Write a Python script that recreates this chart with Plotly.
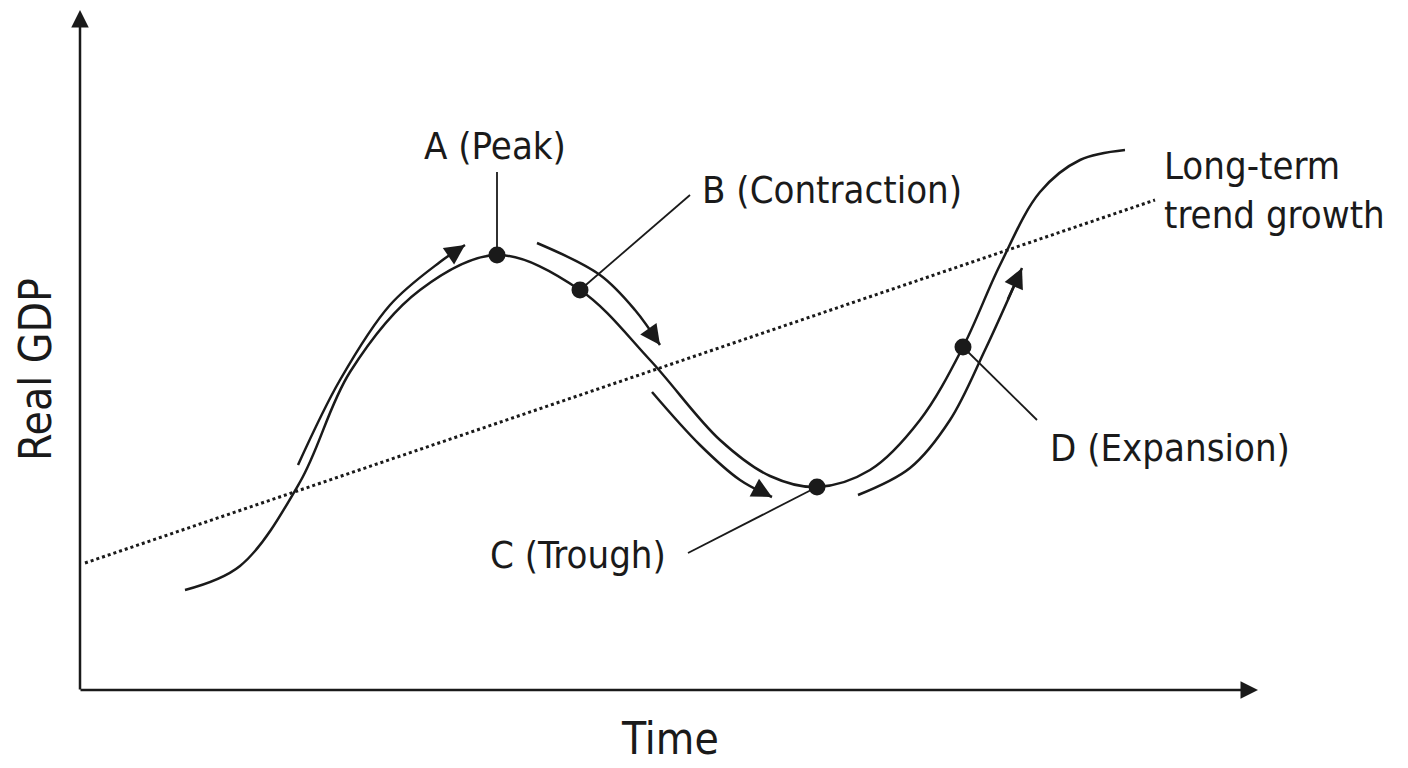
import plotly.graph_objects as go

# schematic coordinates (pixel-like units, y grows downward)
cycle_x = [185, 240, 300, 350, 420, 497, 580, 650, 720, 770, 817, 870, 920, 963, 1000, 1040, 1080, 1125]
cycle_y = [590, 566, 482, 372, 290, 255, 290, 360, 440, 476, 487, 470, 420, 347, 265, 192, 160, 150]

trend_x = [85, 1155]
trend_y = [563, 200]

up1_x = [298, 340, 390, 440, 465]
up1_y = [465, 380, 305, 262, 245]
down1_x = [537, 600, 635, 660]
down1_y = [243, 275, 310, 345]
down2_x = [652, 700, 740, 772]
down2_y = [392, 445, 480, 497]
up2_x = [858, 910, 950, 985, 1022]
up2_y = [495, 468, 420, 350, 268]

dot_x = [497, 580, 817, 963]
dot_y = [255, 290, 487, 347]
lead_end_x = [497, 690, 688, 1037]
lead_end_y = [172, 195, 553, 420]

labels = ["A (Peak)", "B (Contraction)", "C (Trough)", "D (Expansion)"]
label_x = [495, 700, 578, 1170]
label_y = [146, 190, 555, 448]
label_anchor = ["center", "left", "center", "center"]

FONT = "DejaVu Sans Condensed, Liberation Sans Narrow, sans-serif"
BLACK = "#1a1a1a"

fig = go.Figure()
fig.add_trace(go.Scatter(x=cycle_x, y=cycle_y, mode="lines", line=dict(color=BLACK, width=2.5, shape="spline")))
fig.add_trace(go.Scatter(x=trend_x, y=trend_y, mode="lines", line=dict(color=BLACK, width=3, dash="dot")))
for xs, ys in [(up1_x, up1_y), (down1_x, down1_y), (down2_x, down2_y), (up2_x, up2_y)]:
    fig.add_trace(go.Scatter(x=xs, y=ys, mode="lines", line=dict(color=BLACK, width=2.5, shape="spline")))
    fig.add_annotation(x=xs[-1], y=ys[-1], ax=xs[-2] + (xs[-1] - xs[-2]) * 0.6, ay=ys[-2] + (ys[-1] - ys[-2]) * 0.6,
                       xref="x", yref="y", axref="x", ayref="y", text="", showarrow=True,
                       arrowhead=2, arrowsize=1.6, arrowwidth=2.5, arrowcolor=BLACK)
for i in range(4):
    fig.add_trace(go.Scatter(x=[dot_x[i], lead_end_x[i]], y=[dot_y[i], lead_end_y[i]], mode="lines",
                             line=dict(color=BLACK, width=1.8)))
fig.add_trace(go.Scatter(x=dot_x, y=dot_y, mode="markers", marker=dict(color=BLACK, size=17)))

for t, x, y, a in zip(labels, label_x, label_y, label_anchor):
    fig.add_annotation(x=x, y=y, text=t, showarrow=False, xanchor=a, yanchor="middle",
                       font=dict(family=FONT, size=38, color=BLACK))
fig.add_annotation(x=1162, y=190, text="Long-term<br>trend growth", showarrow=False, xanchor="left",
                   align="left", font=dict(family=FONT, size=38, color=BLACK))
fig.add_annotation(x=670, y=738, text="Time", showarrow=False, font=dict(family=FONT, size=44, color=BLACK))
fig.add_annotation(x=35, y=370, text="Real GDP", showarrow=False, textangle=-90,
                   font=dict(family=FONT, size=44, color=BLACK))

# axes with arrow heads
fig.add_annotation(x=80, y=10, ax=80, ay=691, xref="x", yref="y", axref="x", ayref="y", text="",
                   showarrow=True, arrowhead=2, arrowsize=1.4, arrowwidth=2.5, arrowcolor=BLACK)
fig.add_annotation(x=1258, y=690, ax=79, ay=690, xref="x", yref="y", axref="x", ayref="y", text="",
                   showarrow=True, arrowhead=2, arrowsize=1.4, arrowwidth=2.5, arrowcolor=BLACK)

# ranges shifted by 8 to offset the page's default body margin
fig.update_layout(width=1408, height=768, margin=dict(l=0, r=0, t=0, b=0), showlegend=False,
                  plot_bgcolor="white", paper_bgcolor="white",
                  xaxis=dict(range=[8, 1416], visible=False),
                  yaxis=dict(range=[776, 8], visible=False))
fig.write_html("out.html")
